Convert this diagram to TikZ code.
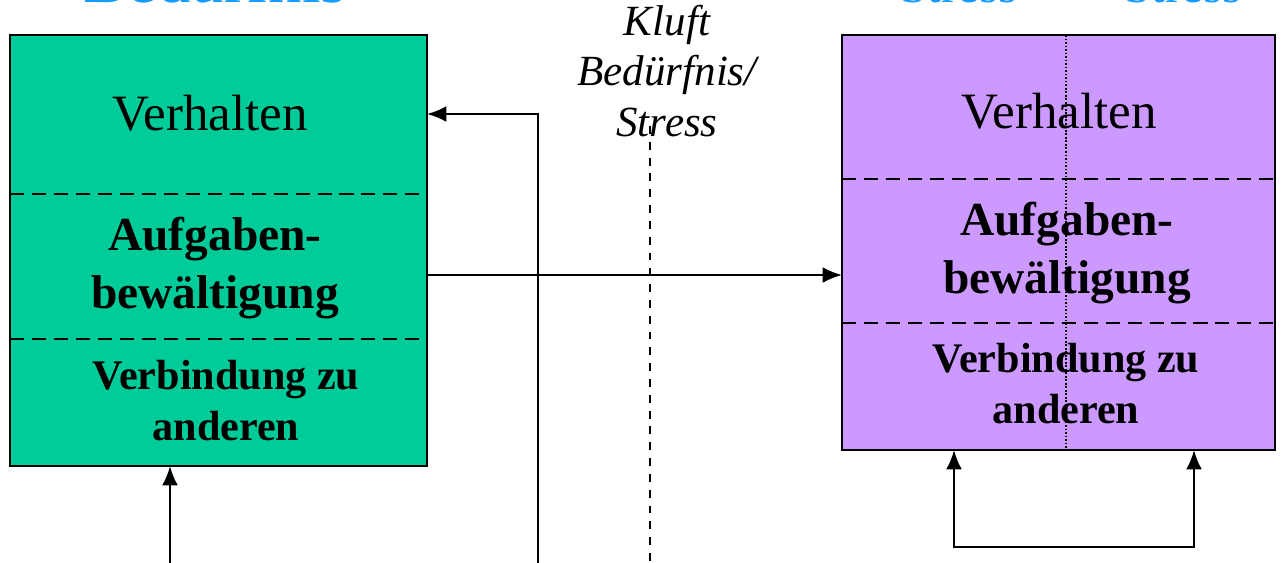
\documentclass[tikz,border=0pt]{standalone}
\usepackage{fontspec}
\setmainfont{Liberation Serif}
\usetikzlibrary{arrows.meta}
\definecolor{boxgreen}{RGB}{0,204,153}
\definecolor{boxpurple}{RGB}{204,153,255}
\definecolor{headblue}{RGB}{20,155,255}

\begin{document}
\begin{tikzpicture}[x=0.02cm,y=-0.02cm,
  panel/.style={draw=black,line width=1.5pt,inner sep=0pt,outer sep=0pt},
  divider/.style={line width=1pt,dash pattern=on 8pt off 4.5pt},
  midline/.style={line width=1pt,dash pattern=on 1pt off 1pt},
  gapline/.style={line width=1.2pt,dash pattern=on 4.5pt off 4.5pt},
  conn/.style={line width=1.3pt,-{Latex[length=11pt,width=9pt]}},
  twoway/.style={line width=1.3pt,{Latex[length=11pt,width=9pt]}-{Latex[length=11pt,width=9pt]}},
  label/.style={anchor=base,align=center,inner sep=0pt},
  big/.style={font=\fontsize{29}{34}\selectfont},
  task/.style={font=\bfseries\fontsize{27}{33}\selectfont},
  social/.style={font=\bfseries\fontsize{24}{28.5}\selectfont},
  head/.style={anchor=base,inner sep=0pt,text=headblue}]

\useasboundingbox (0,0) rectangle (1285,562);

% headings (mostly above the page edge)
\node[head,font=\fontsize{38}{40}\selectfont] (headneed) at (215,2) {Bedürfnis};
\node[head,font=\fontsize{28}{30}\selectfont] (headstressA) at (959,2) {Stress};
\node[head,font=\fontsize{28}{30}\selectfont] (headstressB) at (1183,2) {Stress};

% the two panels
\node[panel,fill=boxgreen,minimum width=8.34cm,minimum height=8.62cm] (need) at (218.5,250.5) {};
\node[panel,fill=boxpurple,minimum width=8.66cm,minimum height=8.3cm] (stress) at (1058.5,242.5) {};

% section dividers
\draw[divider] (need.west |- 0,194) -- (need.east |- 0,194);
\draw[divider] (need.west |- 0,339) -- (need.east |- 0,339);
\draw[divider] (stress.west |- 0,179) -- (stress.east |- 0,179);
\draw[divider] (stress.west |- 0,323) -- (stress.east |- 0,323);

% panel texts (base anchor = baseline of the last line)
\node[label,big] (needbeh) at (210,130) {Verhalten};
\node[label,task] (needtask) at (215,308) {Aufgaben-\\bewältigung};
\node[label,social] (needsoc) at (226,440) {Verbindung zu\\anderen};

\node[label,big] (stressbeh) at (1059,128) {Verhalten};
\node[label,task] (stresstask) at (1067,293) {Aufgaben-\\bewältigung};
\node[label,social] (stresssoc) at (1066,423) {Verbindung zu\\anderen};

% middle split of the right panel
\draw[midline] (stress.north -| 1066,0) -- (stress.south -| 1066,0);

% gap label and its line
\node[label,font=\itshape\fontsize{24.5}{28.5}\selectfont] (gap) at (667,136) {Kluft\\Bedürfnis/\\Stress};
\coordinate (gapTop) at (650,126);
\coordinate (gapBot) at (650,566);
\draw[gapline] (gapTop) -- (gapBot);

% connectors
\coordinate (feedA) at (538,566);
\draw[conn] (feedA) |- (need.east |- 0,114);
\draw[conn] (need.east |- 0,275) -- (stress.west |- 0,275);
\coordinate (feedB) at (170,566);
\draw[conn] (feedB) -- (need.south -| feedB);
\coordinate (loopL) at (954,547);
\coordinate (loopR) at (1194,547);
\draw[twoway] (stress.south -| loopL) -- (loopL) -- (loopR) -- (stress.south -| loopR);

\end{tikzpicture}
\end{document}
